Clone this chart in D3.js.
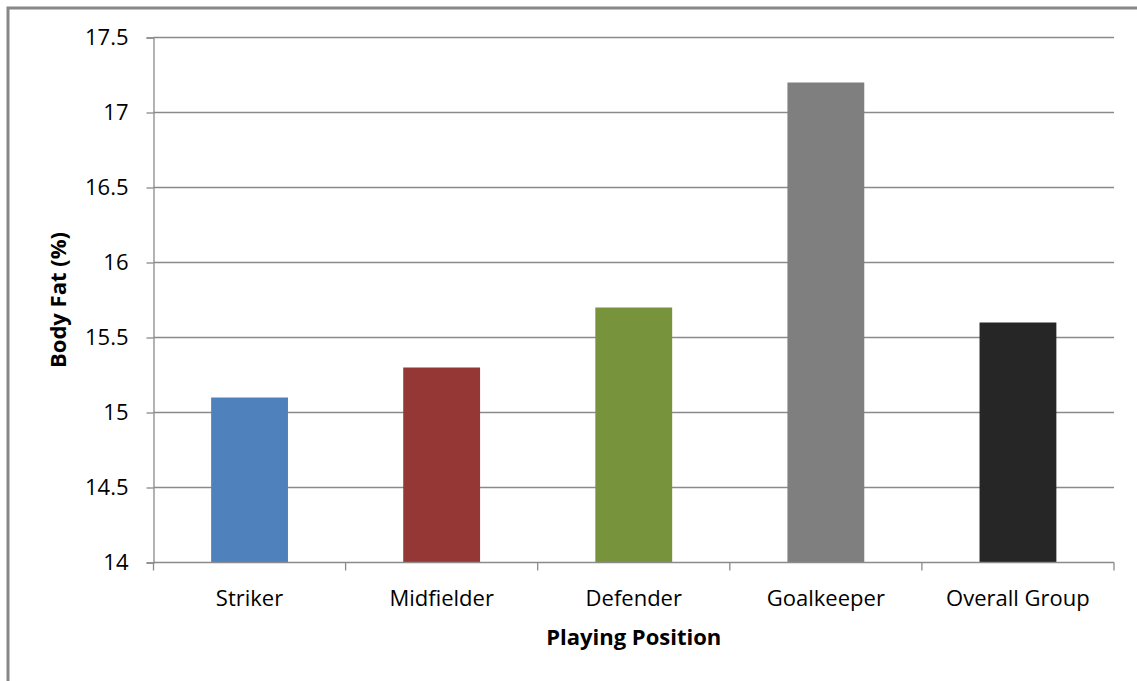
<!DOCTYPE html>
<html><head><meta charset="utf-8">
<script src="https://cdn.jsdelivr.net/npm/d3@7"></script>
<style>body{margin:0;background:#fff}svg{display:block}text{font-family:"Open Sans",sans-serif}</style>
</head><body><svg id="c" width="1137" height="681"></svg>
<script>
const categories = ["Striker","Midfielder","Defender","Goalkeeper","Overall Group"];
const values = [15.1,15.3,15.7,17.2,15.6];
const colors = ["#4F81BD","#953735","#77933C","#7F7F7F","#262626"];
const yTicks = [14,14.5,15,15.5,16,16.5,17,17.5];
const yTitle = "Body Fat (%)";
const xTitle = "Playing Position";
const FONT = "'Open Sans', sans-serif";
const FS = 22;

const svg = d3.select("#c");
svg.append("rect").attr("x",8).attr("y",8).attr("width",1150).attr("height",700)
  .attr("fill","#fff").attr("stroke","#878787").attr("stroke-width",3);

const L=153.5,R=1114,T=37.5,B=562.5;
const x = d3.scaleBand().domain(categories).range([L,R]).paddingInner(0.6).paddingOuter(0.3);
const xb = d3.scaleBand().domain(categories).range([L,R]);
const y = d3.scaleLinear().domain([14,17.5]).range([B,T]);

const g = svg.append("g");
g.selectAll(".grid").data(yTicks.slice(1)).join("line")
  .attr("x1",L).attr("x2",R).attr("y1",d=>y(d)).attr("y2",d=>y(d))
  .attr("stroke","#8a8a8a").attr("stroke-width",1.3);

g.selectAll(".bar").data(values).join("rect")
  .attr("x",(d,i)=>x(categories[i])).attr("width",x.bandwidth())
  .attr("y",d=>y(d)).attr("height",d=>B-y(d))
  .attr("fill",(d,i)=>colors[i]);

const yAxis = d3.axisLeft(y).tickValues(yTicks).tickSize(7).tickPadding(18).tickFormat(d=>String(d));
const ya = svg.append("g").attr("transform",`translate(${L},0)`).call(yAxis);
ya.selectAll("path,line").attr("stroke","#8a8a8a").attr("stroke-width",1.3);
ya.selectAll("text").attr("font-size",FS).attr("fill","#000").attr("font-family",FONT);

const xa = svg.append("g").attr("transform",`translate(0,${B})`);
xa.append("line").attr("x1",L).attr("x2",R).attr("stroke","#8a8a8a").attr("stroke-width",1.3);
const edges = categories.map(c=>xb(c)).concat([R]);
xa.selectAll(".tk").data(edges).join("line")
  .attr("x1",d=>d).attr("x2",d=>d).attr("y1",0).attr("y2",8)
  .attr("stroke","#8a8a8a").attr("stroke-width",1.3);
xa.selectAll(".lb").data(categories).join("text")
  .attr("x",d=>xb(d)+xb.bandwidth()/2).attr("y",43)
  .attr("text-anchor","middle").attr("font-size",FS).attr("fill","#000").text(d=>d);

svg.append("text").attr("x",(L+R)/2).attr("y",645).attr("text-anchor","middle")
  .attr("font-size",FS).attr("font-weight","bold").text(xTitle);
svg.append("text").attr("transform",`translate(66,${(T+B)/2}) rotate(-90)`)
  .attr("text-anchor","middle").attr("font-size",FS).attr("font-weight","bold").text(yTitle);
</script></body></html>
